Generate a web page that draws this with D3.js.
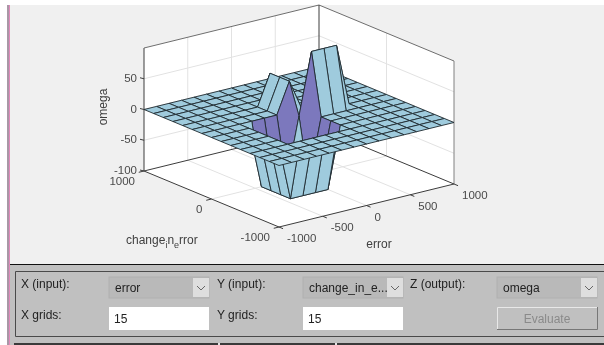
<!DOCTYPE html>
<html lang="en">
<head>
    <meta charset="UTF-8">
    <script src="https://cdn.jsdelivr.net/npm/d3@7"></script>
    <title>Surface viewer</title>
    <style>
        html, body { margin: 0; padding: 0; background: #fff; overflow: hidden; }
        svg { display: block; filter: blur(0.35px); }
        text { font-family: "Liberation Sans", Arial, sans-serif; }
        .tick { font-size: 11.5px; fill: #4a4a4a; }
        .axis-label { font-size: 12px; fill: #404040; }
        .ui { font-size: 12px; fill: #222; }
    </style>
</head>
<body>
<svg width="604" height="345" viewBox="0 0 604 345"></svg>

<script>
    const xTicks = [-1000, -500, 0, 500, 1000];
    const yTicks = [-1000, 0, 1000];
    const zTicks = [-100, -50, 0, 50];
    const gridCount = 15;

    // omega on the 15 x 15 grid, row = error index, column = change_in_error index
    const omega = [
        [0, 0, 0, 0,    0,    0,    0,    0, 0,  0,  0, 0, 0, 0, 0],
        [0, 0, 0, 0,    0,    0,    0,    0, 0,  0,  0, 0, 0, 0, 0],
        [0, 0, 0, 0,    0,    0,    0,    0, 0,  0,  0, 0, 0, 0, 0],
        [0, 0, 0, 0,    0,    0,    0,    0, 0,  0,  0, 0, 0, 0, 0],
        [0, 0, 0, 0, -100, -100, -100, -100, 0,  0,  0, 0, 0, 0, 0],
        [0, 0, 0, 0, -100, -100, -100, -100, 0,  0,  0, 0, 0, 0, 0],
        [0, 0, 0, 0, -100, -100, -100, -100, 0,  0,  0, 0, 0, 0, 0],
        [0, 0, 0, 0, -100, -100, -100,    0, 50, 50, 50, 0, 0, 0, 0],
        [0, 0, 0, 0,    0,    0,    0,  100, 0,  0,  0, 0, 0, 0, 0],
        [0, 0, 0, 0,    0,    0,    0,  100, 0,  0,  0, 0, 0, 0, 0],
        [0, 0, 0, 0,    0,    0,    0,  100, 0,  0,  0, 0, 0, 0, 0],
        [0, 0, 0, 0,    0,    0,    0,    0, 0,  0,  0, 0, 0, 0, 0],
        [0, 0, 0, 0,    0,    0,    0,    0, 0,  0,  0, 0, 0, 0, 0],
        [0, 0, 0, 0,    0,    0,    0,    0, 0,  0,  0, 0, 0, 0, 0],
        [0, 0, 0, 0,    0,    0,    0,    0, 0,  0,  0, 0, 0, 0, 0]
    ];

    const svg = d3.select("svg");
    const blue = "#9fcbdd", purple = "#7c78bd";

    // oblique projection of the axes box, front floor corner at (279, 227)
    const xPx = d3.scaleLinear([-1000, 1000], [0, 175]);
    const xPy = d3.scaleLinear([-1000, 1000], [0, -43]);
    const yPx = d3.scaleLinear([-1000, 1000], [0, -135]);
    const yPy = d3.scaleLinear([-1000, 1000], [0, -56]);
    const zPy = d3.scaleLinear([-100, 100], [0, -123]);
    const gridVal = d3.scaleLinear([0, gridCount - 1], [-1000, 1000]);

    function project(x, y, z) {
        return [279 + xPx(x) + yPx(y), 227 + xPy(x) + yPy(y) + zPy(z)];
    }

    const poly = d3.line();

    function seg(g, a, b, color, w) {
        g.append("line")
            .attr("x1", a[0]).attr("y1", a[1])
            .attr("x2", b[0]).attr("y2", b[1])
            .attr("stroke", color).attr("stroke-width", w);
    }

    // window background
    svg.append("rect").attr("x", 7).attr("y", 5).attr("width", 597).attr("height", 260).attr("fill", "#f0f0f0");
    svg.append("rect").attr("x", 7).attr("y", 5).attr("width", 2).attr("height", 340).attr("fill", "#a898a6");
    svg.append("rect").attr("x", 9).attr("y", 5).attr("width", 1).attr("height", 340).attr("fill", "#e089ba");

    // axes walls and floor
    const axes = svg.append("g");
    const wallFill = "#fff";
    axes.append("path").attr("fill", wallFill)
        .attr("d", poly([project(-1000, 1000, -100), project(-1000, 1000, 100), project(1000, 1000, 100), project(1000, 1000, -100)]) + "Z");
    axes.append("path").attr("fill", wallFill)
        .attr("d", poly([project(1000, 1000, -100), project(1000, 1000, 100), project(1000, -1000, 100), project(1000, -1000, -100)]) + "Z");
    axes.append("path").attr("fill", wallFill)
        .attr("d", poly([project(-1000, -1000, -100), project(-1000, 1000, -100), project(1000, 1000, -100), project(1000, -1000, -100)]) + "Z");

    const gridCol = "#e2e2e2";
    xTicks.slice(1, -1).forEach(x => {
        seg(axes, project(x, 1000, -100), project(x, 1000, 100), gridCol, 1);
        seg(axes, project(x, -1000, -100), project(x, 1000, -100), gridCol, 1);
    });
    yTicks.slice(1, -1).forEach(y => {
        seg(axes, project(1000, y, -100), project(1000, y, 100), gridCol, 1);
        seg(axes, project(-1000, y, -100), project(1000, y, -100), gridCol, 1);
    });
    zTicks.slice(1).forEach(z => {
        seg(axes, project(-1000, 1000, z), project(1000, 1000, z), gridCol, 1);
        seg(axes, project(1000, 1000, z), project(1000, -1000, z), gridCol, 1);
    });

    // box edges
    const edge = "#3c3c3c", edgeSoft = "#6e6e6e";
    seg(axes, project(-1000, 1000, -100), project(-1000, 1000, 100), edge, 1);
    seg(axes, project(-1000, 1000, 100), project(1000, 1000, 100), edgeSoft, 1);
    seg(axes, project(1000, 1000, 100), project(1000, -1000, 100), edgeSoft, 1);
    seg(axes, project(1000, -1000, 100), project(1000, -1000, -100), "#808080", 1);
    seg(axes, project(1000, 1000, -100), project(1000, 1000, 100), edge, 1);
    seg(axes, project(-1000, 1000, -100), project(1000, 1000, -100), edge, 1);
    seg(axes, project(1000, 1000, -100), project(1000, -1000, -100), edge, 1);
    seg(axes, project(-1000, 1000, -100), project(-1000, -1000, -100), edge, 1);
    seg(axes, project(-1000, -1000, -100), project(1000, -1000, -100), edge, 1);

    // surface, painted back to front
    const surface = svg.append("g");
    const innerWall = (i, j) => (j === 7 && i >= 4 && i <= 6) || (i === 7 && j >= 4 && j <= 6);
    const cells = [];
    d3.range(gridCount - 2, -1, -1).forEach(i => {
        d3.range(gridCount - 2, -1, -1).forEach(j => {
            cells.push({ i, j });
        });
    });
    surface.selectAll("path")
        .data(cells)
        .join("path")
        .attr("d", c => poly([[c.i, c.j], [c.i + 1, c.j], [c.i + 1, c.j + 1], [c.i, c.j + 1]]
            .map(p => project(gridVal(p[0]), gridVal(p[1]), omega[p[0]][p[1]]))) + "Z")
        .attr("fill", c => innerWall(c.i, c.j) ? purple : blue)
        .attr("stroke", "#1f2a30")
        .attr("stroke-width", 0.9)
        .attr("stroke-linejoin", "round");

    // ticks and tick labels
    const labels = svg.append("g");
    xTicks.forEach(x => {
        const p = project(x, -1000, -100);
        seg(labels, p, project(x, -1060, -100), edge, 1);
        labels.append("text").attr("class", "tick")
            .attr("x", p[0] + 8).attr("y", p[1] + 15).text(x);
    });
    yTicks.forEach(y => {
        const p = project(-1000, y, -100);
        seg(labels, p, project(-1060, y, -100), edge, 1);
        labels.append("text").attr("class", "tick").attr("text-anchor", "end")
            .attr("x", p[0] - 9).attr("y", p[1] + 14).text(y);
    });
    zTicks.forEach(z => {
        const p = project(-1000, 1000, z);
        seg(labels, p, [p[0] - 4, p[1] - 1], edge, 1);
        labels.append("text").attr("class", "tick").attr("text-anchor", "end")
            .attr("x", p[0] - 7).attr("y", p[1] + 3).text(z);
    });

    labels.append("text").attr("class", "axis-label").attr("text-anchor", "middle")
        .attr("transform", "translate(107,107) rotate(-90)").text("omega");
    labels.append("text").attr("class", "axis-label").attr("text-anchor", "middle")
        .attr("x", 379).attr("y", 248).text("error");

    const changeLabel = labels.append("text").attr("class", "axis-label").attr("x", 126).attr("y", 244);
    changeLabel.append("tspan").text("change");
    changeLabel.append("tspan").attr("dy", 4).attr("font-size", 9).text("i");
    changeLabel.append("tspan").attr("dy", -4).text("n");
    changeLabel.append("tspan").attr("dy", 4).attr("font-size", 9).text("e");
    changeLabel.append("tspan").attr("dy", -4).text("rror");

    // control panel below the axes
    const panel = svg.append("g");
    panel.append("rect").attr("x", 10).attr("y", 264).attr("width", 594).attr("height", 81).attr("fill", "#c0c0c0");
    panel.append("rect").attr("x", 10).attr("y", 264).attr("width", 594).attr("height", 1).attr("fill", "#111");
    panel.append("path").attr("d", "M604,271.5H15.5V336.5H604").attr("fill", "none").attr("stroke", "#4a4a4a");
    panel.append("rect").attr("x", 14).attr("y", 343).attr("width", 590).attr("height", 2).attr("fill", "#3a3a3a");
    panel.append("rect").attr("x", 218).attr("y", 343).attr("width", 2).attr("height", 2).attr("fill", "#e4e4e4");
    panel.append("rect").attr("x", 335).attr("y", 343).attr("width", 2).attr("height", 2).attr("fill", "#e4e4e4");

    const uiLabels = ["X (input):", "Y (input):", "Z (output):", "X grids:", "Y grids:"];
    const uiLabelX = [21, 217, 410, 21, 217];
    const uiLabelY = [288, 288, 288, 319, 319];
    uiLabels.forEach((t, k) => {
        panel.append("text").attr("class", "ui").attr("x", uiLabelX[k]).attr("y", uiLabelY[k]).text(t);
    });

    const comboText = ["error", "change_in_e...", "omega"];
    const comboX = [109, 303, 497];
    comboText.forEach((t, k) => {
        const x = comboX[k];
        panel.append("rect").attr("x", x).attr("y", 277).attr("width", 100).attr("height", 21).attr("fill", "#b9b9b9").attr("stroke", "#b0b0b0");
        panel.append("rect").attr("x", x + 84).attr("y", 278).attr("width", 16).attr("height", 19).attr("fill", "#dedede");
        panel.append("path").attr("d", `M${x + 88},286l4,4l4,-4`).attr("fill", "none").attr("stroke", "#666");
        panel.append("text").attr("class", "ui").attr("x", x + 6).attr("y", 292).text(t);
    });

    const gridText = ["15", "15"];
    const gridX = [109, 303];
    gridText.forEach((t, k) => {
        panel.append("rect").attr("x", gridX[k]).attr("y", 307).attr("width", 100).attr("height", 23).attr("fill", "#fff");
        panel.append("text").attr("class", "ui").attr("x", gridX[k] + 5).attr("y", 323).text(t);
    });

    panel.append("rect").attr("x", 497).attr("y", 307).attr("width", 101).attr("height", 23).attr("fill", "#c0c0c0");
    panel.append("path").attr("d", "M497.5,330V307.5H598").attr("fill", "none").attr("stroke", "#e8e8e8");
    panel.append("path").attr("d", "M497,329.5H597.5V307").attr("fill", "none").attr("stroke", "#777");
    panel.append("text").attr("class", "ui").attr("x", 547).attr("y", 323).attr("text-anchor", "middle")
        .style("fill", "#8a8a8a").text("Evaluate");
</script>

</body>
</html>
